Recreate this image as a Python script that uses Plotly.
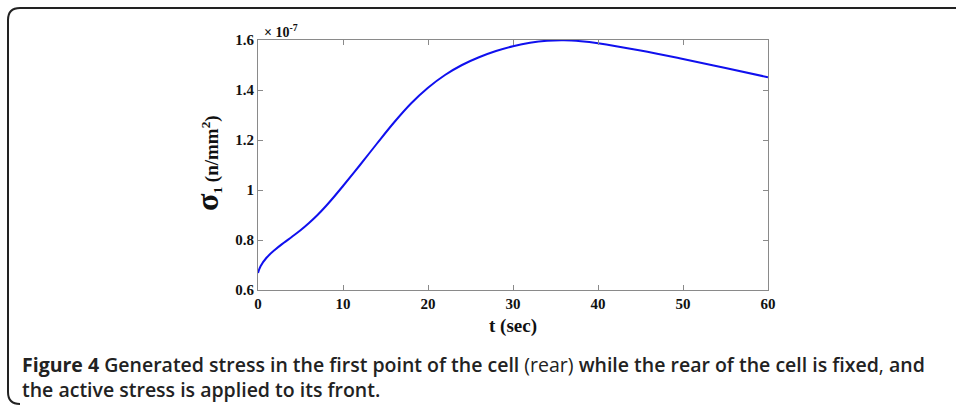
import plotly.graph_objects as go

t_sec = [0, 0.3, 1, 2, 3, 4, 5, 6, 7, 8, 9, 10, 12, 14, 16, 18, 20, 22, 24, 26, 28, 30, 32, 34, 36, 38, 40, 45, 50, 55, 60]
sigma = [0.668, 0.695, 0.729, 0.761, 0.788, 0.813, 0.839, 0.868, 0.900, 0.936, 0.975, 1.016, 1.100, 1.186, 1.270, 1.346, 1.409, 1.460, 1.500, 1.531, 1.556, 1.575, 1.589, 1.597, 1.599, 1.595, 1.587, 1.558, 1.524, 1.488, 1.451]

x_ticks = [0, 10, 20, 30, 40, 50, 60]
y_ticks = [0.6, 0.8, 1.0, 1.2, 1.4, 1.6]
y_tick_text = ["0.6", "0.8", "1", "1.2", "1.4", "1.6"]

W, H = 956, 409
L, R, T, B = 258, 768, 40, 290

def px(x):
    return (x - L) / (R - L)

def py(y):
    return (B - y) / (B - T)

fig = go.Figure()
fig.add_trace(go.Scatter(x=t_sec, y=sigma, mode="lines", line=dict(color="#1010ee", width=2, shape="spline", smoothing=1.0), showlegend=False))

tickfont = dict(family="Liberation Serif", size=15, color="#111")
axis_common = dict(showgrid=False, zeroline=False, showline=True, linecolor="#8a8a8a", linewidth=1,
                   mirror="ticks", ticks="inside", ticklen=5, tickcolor="#8a8a8a", tickfont=tickfont)
fig.update_xaxes(range=[0, 60], tickvals=x_ticks, ticktext=[f"<b>{v}</b>" for v in x_ticks], **axis_common)
fig.update_yaxes(range=[0.6, 1.6], tickvals=y_ticks, ticktext=[f"<b>{s}</b>" for s in y_tick_text], **axis_common)

# border path with rounded corners
x0, x1 = px(8), px(962)
y0, y1 = py(8), py(404)
rx = 12 / (R - L)
ry = 12 / (B - T)
path = (f"M {x1},{y0} L {x0+rx},{y0} Q {x0},{y0} {x0},{y0-ry} "
        f"L {x0},{y1+ry} Q {x0},{y1} {x0+rx},{y1}")
fig.add_shape(type="path", path=path, xref="paper", yref="paper", line=dict(color="#222", width=2))

annotations = [
    dict(x=px(262), y=py(31), xref="paper", yref="paper", xanchor="left", yanchor="middle", showarrow=False,
         text="<b>× 10<sup>-7</sup></b>", font=dict(family="Liberation Serif", size=14, color="#111")),
    dict(x=px(513), y=py(326), xref="paper", yref="paper", xanchor="center", yanchor="middle", showarrow=False,
         text="<b>t (sec)</b>", font=dict(family="Liberation Serif", size=19, color="#111")),
    dict(x=px(207), y=py(163), xref="paper", yref="paper", xanchor="center", yanchor="middle", showarrow=False,
         textangle=-90,
         text="<b><span style='font-size:32px'>σ</span><sub>1</sub> (n/mm<sup>2</sup>)</b>",
         font=dict(family="Liberation Serif", size=19, color="#111")),
    dict(x=px(20), y=py(364), xref="paper", yref="paper", xanchor="left", yanchor="middle", showarrow=False,
         align="left",
         text="<b>Figure 4</b> Generated stress in the first point of the cell <span style='font-weight:400'>(rear)</span> while the rear of the cell is fixed<span style='font-weight:400'>,</span> and",
         font=dict(family="Open Sans", size=19.5, color="#222", weight=600)),
    dict(x=px(20), y=py(389), xref="paper", yref="paper", xanchor="left", yanchor="middle", showarrow=False,
         align="left",
         text="the active stress is applied to its front.",
         font=dict(family="Open Sans", size=19.5, color="#222", weight=600)),
]

fig.update_layout(width=W, height=H, margin=dict(l=L, r=W - R, t=T, b=H - B),
                  paper_bgcolor="white", plot_bgcolor="white", annotations=annotations)

fig.write_html("out.html")
